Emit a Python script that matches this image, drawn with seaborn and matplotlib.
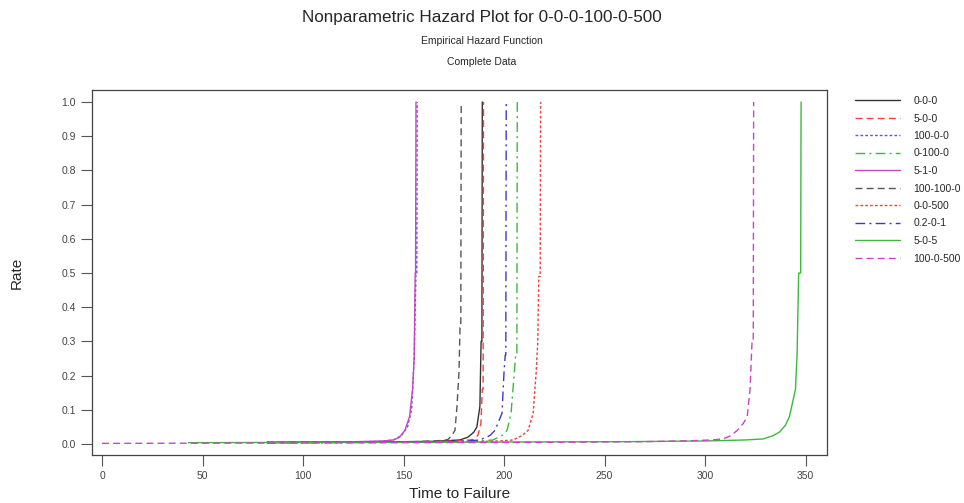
import matplotlib
matplotlib.use("Agg")
import pandas as pd
import seaborn as sns
import matplotlib.pyplot as plt

# Series labels (legend order)
labels = ["0-0-0", "5-0-0", "100-0-0", "0-100-0", "5-1-0",
          "100-100-0", "0-0-500", "0.2-0-1", "5-0-5", "100-0-500"]

# Failure times and hazard rates, one pair per series
t_0_0_0 = [82, 120, 150, 165, 172, 178, 182, 185, 186.5, 188, 188.6, 189.0, 189.2]
r_0_0_0 = [0.005, 0.006, 0.007, 0.008, 0.010, 0.012, 0.02, 0.035, 0.05, 0.11, 0.3, 0.3, 1.0]

t_5_0_0 = [82, 130, 160, 175, 181, 184.6, 187, 188.5, 189.2, 189.6, 189.8]
r_5_0_0 = [0.004, 0.005, 0.007, 0.009, 0.011, 0.013, 0.025, 0.06, 0.16, 0.16, 1.0]

t_100_0_0 = [82, 120, 138, 145, 149, 152, 154, 155.3, 156.2, 156.6, 156.8]
r_100_0_0 = [0.005, 0.006, 0.008, 0.012, 0.025, 0.05, 0.1, 0.25, 0.5, 0.5, 1.0]

t_0_100_0 = [82, 140, 175, 188, 194.5, 199, 201.5, 203.5, 205, 205.8, 206.4, 206.6]
r_0_100_0 = [0.004, 0.005, 0.007, 0.009, 0.012, 0.025, 0.04, 0.09, 0.2, 0.26, 0.26, 1.0]

t_5_1_0 = [82, 120, 140, 145, 148, 150.7, 153, 154.5, 155.3, 155.8, 156.0, 156.2]
r_5_1_0 = [0.005, 0.006, 0.009, 0.012, 0.02, 0.04, 0.08, 0.16, 0.25, 0.5, 0.5, 1.0]

t_100_100_0 = [82, 130, 155, 165, 170, 172, 174, 175.6, 176.6, 177.6, 178.1, 178.5, 178.7]
r_100_100_0 = [0.005, 0.006, 0.007, 0.009, 0.011, 0.013, 0.025, 0.04, 0.11, 0.21, 0.34, 0.34, 1.0]

t_0_0_500 = [82, 150, 185, 198, 204.5, 209, 212, 214.5, 216, 216.8, 217.3, 218.0, 218.2]
r_0_0_500 = [0.004, 0.005, 0.007, 0.009, 0.012, 0.025, 0.04, 0.09, 0.21, 0.3, 0.49, 0.49, 1.0]

t_02_0_1 = [82, 140, 170, 182, 188, 193, 195.5, 199, 200, 200.6, 200.9, 201.1]
r_02_0_1 = [0.004, 0.005, 0.007, 0.009, 0.012, 0.025, 0.04, 0.09, 0.21, 0.26, 0.26, 1.0]

t_5_0_5 = [43, 100, 200, 260, 300, 320, 329, 334, 337, 340, 342, 345, 345.8, 346.6, 347.6, 347.8]
r_5_0_5 = [0.004, 0.005, 0.006, 0.007, 0.009, 0.012, 0.015, 0.025, 0.035, 0.055, 0.08, 0.16, 0.26, 0.5, 0.5, 1.0]

t_100_0_500 = [0, 82, 150, 220, 270, 294, 303, 309, 313, 316, 319, 321, 322.4, 323.4, 324.0, 324.2]
r_100_0_500 = [0.002, 0.003, 0.004, 0.005, 0.007, 0.010, 0.012, 0.015, 0.025, 0.04, 0.06, 0.08, 0.16, 0.3, 0.3, 1.0]

times = [t_0_0_0, t_5_0_0, t_100_0_0, t_0_100_0, t_5_1_0,
         t_100_100_0, t_0_0_500, t_02_0_1, t_5_0_5, t_100_0_500]
rates = [r_0_0_0, r_5_0_0, r_100_0_0, r_0_100_0, r_5_1_0,
         r_100_100_0, r_0_0_500, r_02_0_1, r_5_0_5, r_100_0_500]

# Colours and dash patterns per series
colors = ["#333333", "#f04040", "#5a5ad8", "#3cb83c", "#c844c8",
          "#555555", "#f04040", "#3a3ac8", "#3cb83c", "#c844c8"]
styles = ["-", (0, (5, 3)), (0, (2, 1.5)), (0, (7, 3, 1.5, 3)), "-",
          (0, (5, 3)), (0, (2, 1.5)), (0, (7, 3, 1.5, 3)), "-", (0, (5, 3))]

sns.set_theme(style="ticks")
plt.rcParams['font.family'] = ['Liberation Sans', 'DejaVu Sans']

fig = plt.figure(figsize=(9.64, 5.03), dpi=100)
ax = fig.add_axes([0.0954, 0.0954, 0.7625, 0.7256])

for lab, t, r, c, ls in zip(labels, times, rates, colors, styles):
    df = pd.DataFrame({"Time": t, "Rate": r})
    sns.lineplot(data=df, x="Time", y="Rate", ax=ax, estimator=None, sort=False,
                 color=c, linestyle=ls, linewidth=1.0, label=lab)

ax.set_xlim(-5, 360.7)
ax.set_ylim(-0.032, 1.035)
ax.set_xticks(range(0, 351, 50))
ax.set_yticks([i / 10 for i in range(11)])
ax.set_yticklabels([f"{i / 10:.1f}" for i in range(11)])
ax.tick_params(axis="both", labelsize=7.5, colors="#555555", length=8, width=0.8,
               labelcolor="#444444")
for s in ax.spines.values():
    s.set_color("#444444")
    s.set_linewidth(0.9)

ax.set_xlabel("Time to Failure", fontsize=11, labelpad=4)
ax.set_ylabel("Rate", fontsize=11, labelpad=27)

fig.text(0.5, 0.965, "Nonparametric Hazard Plot for 0-0-0-100-0-500",
         ha="center", va="center", fontsize=12.3)
fig.text(0.5, 0.918, "Empirical Hazard Function", ha="center", va="center", fontsize=7.5)
fig.text(0.5, 0.877, "Complete Data", ha="center", va="center", fontsize=7.5)

ax.legend(loc="upper left", bbox_to_anchor=(855 / 964, 1 - 96 / 503),
          bbox_transform=fig.transFigure, frameon=False, fontsize=7.5,
          handlelength=4.3, handletextpad=1.3, labelspacing=0.72,
          borderaxespad=0, borderpad=0)

fig.savefig("out.png", dpi=100)
